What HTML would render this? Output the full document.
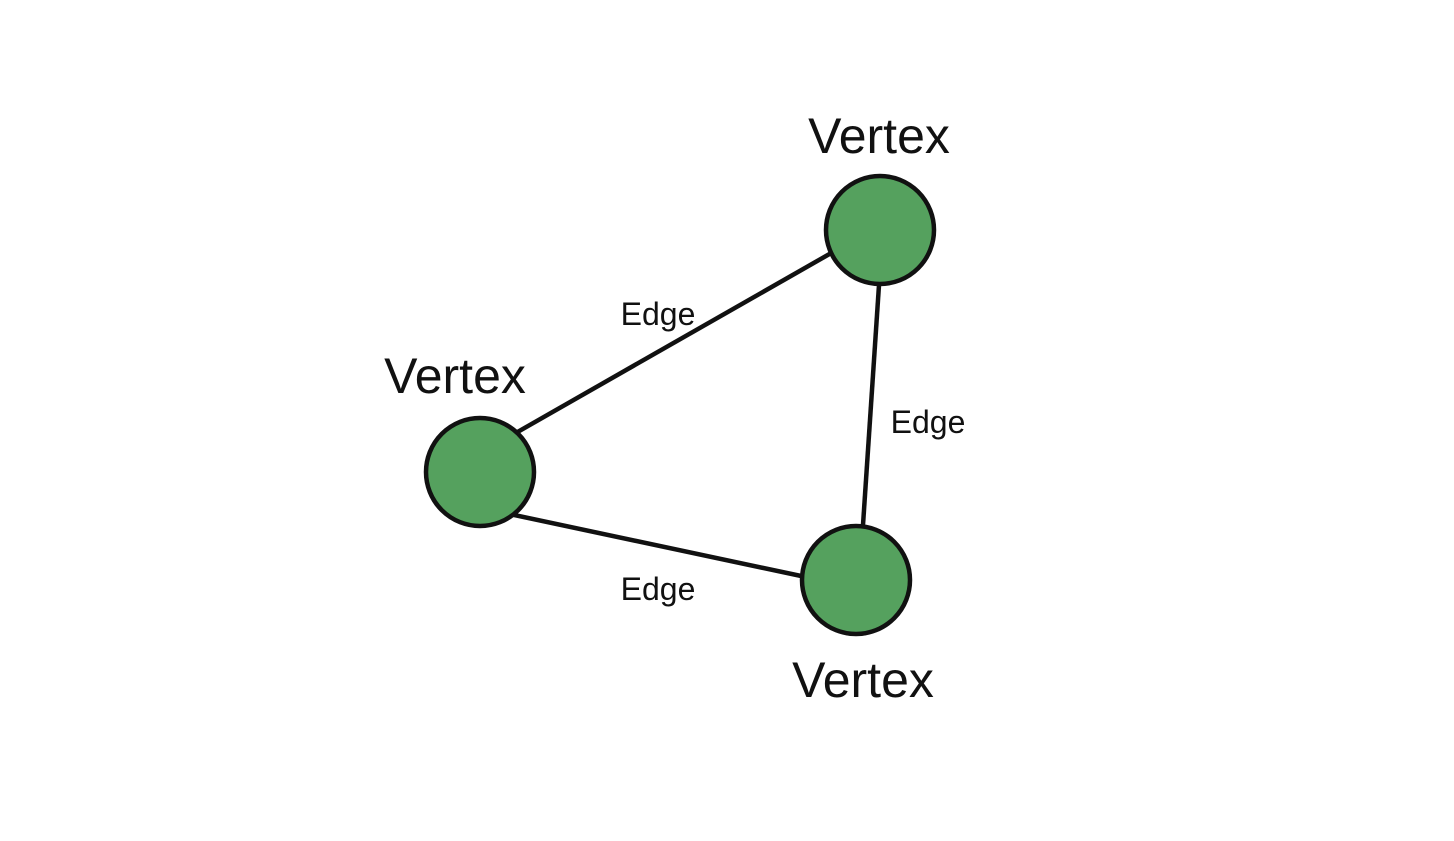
<!DOCTYPE html>
<html><head><style>html,body{margin:0;padding:0;background:#fff;}</style></head>
<body>
<svg width="1454" height="836" viewBox="0 0 1454 836" xmlns="http://www.w3.org/2000/svg">
<g stroke="#111" stroke-width="4.5">
<line x1="500" y1="442" x2="840" y2="248"/>
<line x1="880" y1="270" x2="862" y2="540"/>
<line x1="500" y1="512" x2="820" y2="580"/>
</g>
<g fill="#55a15e" stroke="#111" stroke-width="4.5">
<circle cx="880" cy="230" r="54"/>
<circle cx="480" cy="472" r="54"/>
<circle cx="856" cy="580" r="54"/>
</g>
<g font-family="Liberation Sans, sans-serif" fill="#111" text-anchor="middle">
<text x="879" y="153" font-size="50">Vertex</text>
<text x="455" y="393" font-size="50">Vertex</text>
<text x="863" y="697" font-size="50">Vertex</text>
<text x="658" y="325" font-size="32">Edge</text>
<text x="928" y="433" font-size="32">Edge</text>
<text x="658" y="600" font-size="32">Edge</text>
</g>
</svg>
</body></html>
